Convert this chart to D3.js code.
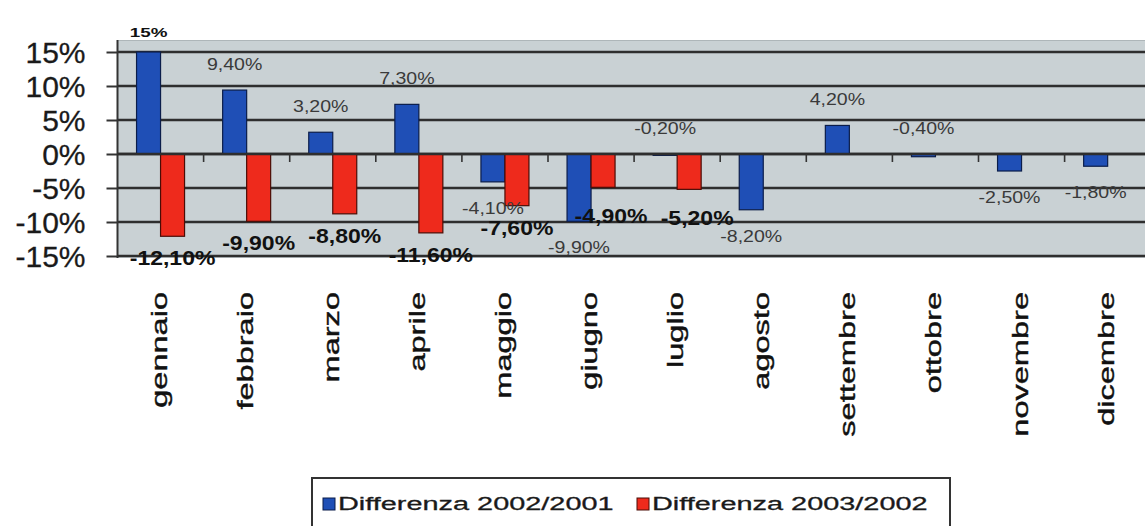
<!DOCTYPE html>
<html><head><meta charset="utf-8">
<script src="https://cdn.jsdelivr.net/npm/d3@7"></script>
<style>
html,body{margin:0;padding:0;background:#fff;}
svg{display:block;}
text{font-family:"Liberation Sans",Arial,sans-serif;}
</style></head>
<body>
<svg id="chart" width="1145" height="526"></svg>
<script>
const months = ["gennaio","febbraio","marzo","aprile","maggio","giugno","luglio","agosto","settembre","ottobre","novembre","dicembre"];
const seriesNames = ["Differenza 2002/2001","Differenza 2003/2002"];
const diff2002 = [15, 9.4, 3.2, 7.3, -4.1, -9.9, -0.2, -8.2, 4.2, -0.4, -2.5, -1.8];
const diff2003 = [-12.1, -9.9, -8.8, -11.6, -7.6, -4.9, -5.2, null, null, null, null, null];
const yTicks = [-15, -10, -5, 0, 5, 10, 15];
const seriesColors = ["#1f4fb6", "#ee2a1c"];
const seriesStroke = ["#0b1d4a", "#4a0c06"];

const svg = d3.select("#chart");
const plot = {left: 117.5, right: 1150.7, top: 40, bottom: 258};

const x0 = d3.scaleBand().domain(months).range([plot.left, plot.right]).padding(0);
const groupW = 48;
const x1 = d3.scaleBand().domain([0, 1]).range([0, groupW]);
const y = d3.scaleLinear().domain([-15, 15]).range([256, 52]);

const loc = d3.formatLocale({decimal: ",", thousands: ".", grouping: [3], currency: ["", "€"], minus: "-"});
const f2 = loc.format(".2f");
const fmt = v => Number.isInteger(v) ? v + "%" : f2(v) + "%";

// background
svg.append("rect").attr("x", plot.left).attr("y", plot.top)
  .attr("width", plot.right - plot.left).attr("height", plot.bottom - plot.top)
  .attr("fill", "#c9d1d4");
svg.append("line").attr("x1", plot.left).attr("x2", plot.right).attr("y1", plot.top + 0.5).attr("y2", plot.top + 0.5)
  .attr("stroke", "#aeb6b9").attr("stroke-width", 1);

// gridlines
svg.append("g").selectAll("line").data(yTicks).join("line")
  .attr("x1", plot.left).attr("x2", plot.right)
  .attr("y1", d => y(d)).attr("y2", d => y(d))
  .attr("stroke", "#2e2e2e").attr("stroke-width", 2.4);

// y axis
const yAxis = d3.axisLeft(y).tickValues(yTicks).tickFormat(d => d + "%").tickSize(11).tickPadding(21);
const gy = svg.append("g").attr("transform", `translate(${plot.left},0)`).call(yAxis);
gy.select(".domain").attr("d", `M0,${plot.top}V${plot.bottom}`).attr("stroke", "#333").attr("stroke-width", 2);
gy.selectAll(".tick line").attr("stroke", "#333").attr("stroke-width", 2);
gy.selectAll(".tick text").attr("font-size", 30).attr("fill", "#1a1a1a")
  .attr("font-family", "'Liberation Sans', Arial, sans-serif").attr("dy", "0.36em")
  .attr("stroke", "#1a1a1a").attr("stroke-width", 0.3);

// bars
const data = months.map((m, i) => ({m, vals: [diff2002[i], diff2003[i]]}));
const groups = svg.append("g").selectAll("g").data(data).join("g")
  .attr("transform", d => `translate(${x0(d.m) + (x0.bandwidth() - groupW) / 2},0)`);
groups.selectAll("rect").data(d => d.vals.map((v, s) => ({v, s})).filter(e => e.v !== null)).join("rect")
  .attr("x", d => x1(d.s)).attr("width", x1.bandwidth())
  .attr("y", d => Math.min(y(0), y(d.v)))
  .attr("height", d => Math.max(1, Math.abs(y(d.v) - y(0))))
  .attr("fill", d => seriesColors[d.s])
  .attr("stroke", d => seriesStroke[d.s]).attr("stroke-width", 1.2);

// zero line on top
svg.append("line").attr("x1", plot.left).attr("x2", plot.right).attr("y1", y(0)).attr("y2", y(0))
  .attr("stroke", "#2e2e2e").attr("stroke-width", 2.4);
// category ticks below zero line
svg.append("g").selectAll("line").data(months.slice(1)).join("line")
  .attr("x1", d => x0(d)).attr("x2", d => x0(d))
  .attr("y1", y(0)).attr("y2", y(0) + 8)
  .attr("stroke", "#333").attr("stroke-width", 1.6);

// value labels
groups.each(function(d) {
  const g = d3.select(this);
  const v = d.vals[0];
  const cx = x1(0) + x1.bandwidth() / 2;
  const top = v >= 15;
  const above = v >= 0 || Math.abs(v) < 1;
  const yy = above ? Math.min(y(v), y(0)) - (top ? 15 : 20) : y(v) + 32;
  g.append("text")
    .attr("transform", `translate(${cx},${yy}) scale(${top ? 1.45 : 1.15},1)`)
    .attr("text-anchor", "middle")
    .attr("font-size", top ? 13 : 17)
    .attr("font-weight", top ? "bold" : "normal")
    .attr("fill", top ? "#111" : "#3a3a3a")
    .text(fmt(v));
  const r = d.vals[1];
  if (r !== null) {
    const rx = x1(1) + x1.bandwidth() / 2 + (Math.abs(r) < 6 ? 8 : 0);
    const ry = y(r) + (Math.abs(r) < 6 ? 36 : 29);
    g.append("text")
      .attr("transform", `translate(${rx},${ry}) scale(1.15,1)`)
      .attr("text-anchor", "middle")
      .attr("font-size", 20).attr("font-weight", "bold").attr("fill", "#111")
      .text(fmt(r));
  }
});

// month labels
svg.append("g").selectAll("text").data(months).join("text")
  .attr("transform", d => `translate(${x0(d) + x0.bandwidth() / 2 + 6},292) rotate(-90) scale(1.48,1)`)
  .attr("text-anchor", "end")
  .attr("font-size", 22).attr("fill", "#111")
  .attr("stroke", "#111").attr("stroke-width", 0.4)
  .text(d => d);

// legend
const lg = svg.append("g");
lg.append("rect").attr("x", 312).attr("y", 478).attr("width", 638).attr("height", 70)
  .attr("fill", "#fff").attr("stroke", "#333").attr("stroke-width", 2);
const items = lg.selectAll("g").data(seriesNames).join("g")
  .attr("transform", (d, i) => `translate(${323 + i * 314},0)`);
items.append("rect").attr("x", 0).attr("y", 498).attr("width", 12).attr("height", 12)
  .attr("fill", (d, i) => seriesColors[i]).attr("stroke", (d, i) => seriesStroke[i]).attr("stroke-width", 1);
items.append("text")
  .attr("transform", "translate(15,510) scale(1.52,1)")
  .attr("font-size", 19).attr("fill", "#1a1a1a")
  .attr("stroke", "#1a1a1a").attr("stroke-width", 0.3)
  .text(d => d);
</script>
</body></html>
